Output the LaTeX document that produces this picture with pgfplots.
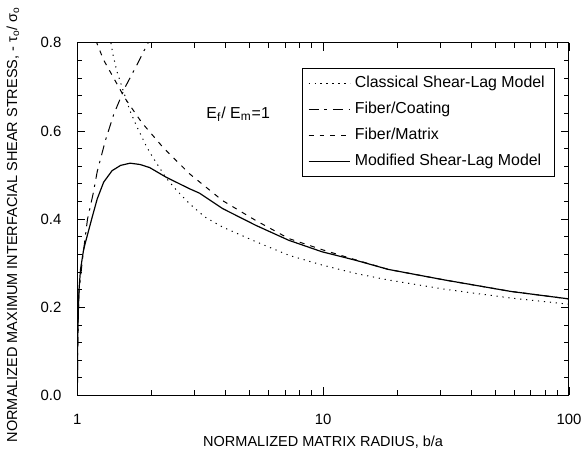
\documentclass[border=0pt]{standalone}
\usepackage{fontspec}
\setmainfont{Liberation Sans}
\usepackage{pgfplots}
\pgfplotsset{compat=1.18}

\begin{document}
\begin{tikzpicture}
\begin{axis}[
    scale only axis,
    width=247.5pt,
    height=177.5pt,
    xmode=log,
    xmin=1, xmax=100,
    ymin=0, ymax=0.8,
    xtick={1,10,100},
    xticklabels={1,10,100},
    minor xtick={2,3,4,5,6,7,8,9,20,30,40,50,60,70,80,90},
    ytick={0,0.2,0.4,0.6,0.8},
    minor y tick num=4,
    tick align=inside,
    major tick length=4pt,
    minor tick length=2.5pt,
    tick style={black, line width=0.4pt},
    axis line style={line width=0.5pt},
    /pgf/number format/assume math mode=true,
    yticklabel style={/pgf/number format/fixed,
        /pgf/number format/fixed zerofill,
        /pgf/number format/precision=1, xshift=-4.5pt},
    xticklabel style={yshift=-6pt},
    ticklabel style={font=\fontsize{7.5}{9}\selectfont},
    label style={font=\fontsize{7.3}{9}\selectfont},
    xlabel={NORMALIZED MATRIX RADIUS, b/a},
    ylabel={NORMALIZED MAXIMUM INTERFACIAL SHEAR STRESS, - τ\textsubscript{o}/ σ\textsubscript{o}},
    xlabel style={at={(axis description cs:0.5,-0.1324)}, anchor=center},
    ylabel style={at={(axis description cs:-0.131,0.485)}, anchor=center},
    legend style={at={(rel axis cs:0.972,0.930)}, anchor=north east,
        draw=black, line width=0.5pt,
        font=\fontsize{8}{9}\selectfont,
        row sep=1.8pt, cells={anchor=west}},
    legend image code/.code={\draw[#1] (0pt,0pt) -- (21pt,0pt);},
]
% Classical shear-lag model
\addplot[black, line width=0.5pt, dash pattern=on 0.6pt off 2.4pt] coordinates {
    (1.34,0.84) (1.36,0.81) (1.40,0.77) (1.45,0.735) (1.54,0.69) (1.64,0.645)
    (1.74,0.612) (1.91,0.565) (2.03,0.54) (2.30,0.493) (2.53,0.466)
    (2.86,0.435) (3.3,0.405) (3.9,0.382) (5.32,0.349) (7.25,0.318)
    (9.89,0.296) (13.5,0.277) (18.4,0.262) (31.2,0.241) (58,0.221) (100,0.207)
};
\addlegendentry{Classical Shear-Lag Model}
% Fiber/coating
\addplot[black, line width=0.5pt, dash pattern=on 5pt off 3pt on 1.2pt off 3pt] coordinates {
    (1.0,0.0) (1.003,0.10) (1.009,0.18) (1.016,0.235) (1.05,0.31)
    (1.10,0.40) (1.16,0.458) (1.205,0.508) (1.30,0.578) (1.407,0.638)
    (1.56,0.698) (1.74,0.748) (1.94,0.80) (2.1,0.84)
};
\addlegendentry{Fiber/Coating}
% Fiber/matrix
\addplot[black, line width=0.5pt, dash pattern=on 2.5pt off 3pt] coordinates {
    (1.17,0.83) (1.20,0.80) (1.277,0.762) (1.56,0.675) (1.83,0.619)
    (2.23,0.563) (2.86,0.503) (3.90,0.442) (5.32,0.397) (7.25,0.356)
    (10,0.330) (13.5,0.308) (18.4,0.286) (31.2,0.262) (58,0.236) (100,0.219)
};
\addlegendentry{Fiber/Matrix}
% Modified shear-lag model
\addplot[black, line width=0.6pt, line join=round] coordinates {
    (1.0,0.0) (1.003,0.11) (1.009,0.187) (1.016,0.24) (1.03,0.285)
    (1.06,0.33) (1.08,0.348) (1.15,0.405) (1.205,0.446) (1.28,0.484)
    (1.385,0.51) (1.5,0.522) (1.64,0.527) (1.8,0.524) (1.97,0.517)
    (2.3,0.495) (2.86,0.469) (3.14,0.459) (3.9,0.424) (5.32,0.386)
    (7.25,0.352) (9.89,0.326) (13.5,0.307) (18.4,0.286) (31.2,0.262)
    (58,0.236) (100,0.219)
};
\addlegendentry{Modified Shear-Lag Model}
\node[anchor=west, font=\fontsize{8}{9}\selectfont] at (axis cs:3.14,0.638)
    {E\textsubscript{f}/ E\textsubscript{m}=1};
\end{axis}
\end{tikzpicture}
\end{document}
